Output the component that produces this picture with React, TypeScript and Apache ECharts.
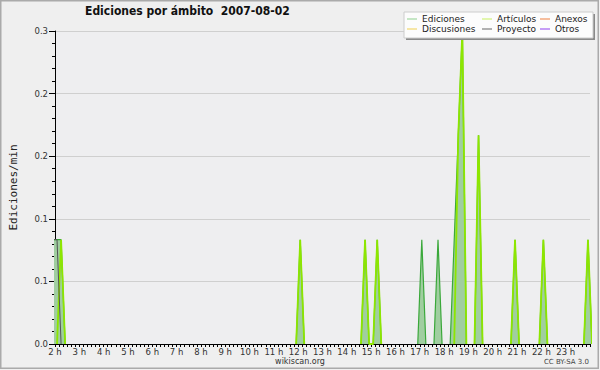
import React, { useEffect, useRef } from "react";
import * as echarts from "echarts";

const titleText = "Ediciones por ámbito  2007-08-02";
const yAxisName = "Ediciones/min";
const footerCenter = "wikiscan.org";
const footerRight = "CC BY-SA 3.0";
const yTickLabels = ["0.0", "0.1", "0.1", "0.2", "0.2", "0.3"];
const hourMin = 2;
const hourMax = 24;

const legendColumns = [
  ["Ediciones", "Discusiones"],
  ["Artículos", "Proyecto"],
  ["Anexos", "Otros"],
];
const legendColors: Record<string, string> = {
  Ediciones: "#8fd08f",
  Discusiones: "#f0d050",
  "Artículos": "#c8f060",
  Proyecto: "#666666",
  Anexos: "#f08040",
  Otros: "#9040f0",
};

// 10-minute bins (bin centres), values in edits per minute
const edicionesTimes = [
  "1:55", "2:05", "2:15", "2:25",
  "11:55", "12:05", "12:15",
  "14:35", "14:45", "14:55",
  "15:05", "15:15", "15:25",
  "16:55", "17:05", "17:15",
  "17:35", "17:45", "17:55",
  "18:15", "18:25", "18:35", "18:45", "18:55",
  "19:15", "19:25", "19:35",
  "20:45", "20:55", "21:05",
  "21:55", "22:05", "22:15",
  "23:45", "23:55", "24:05",
];
const edicionesValues = [
  0.1, 0.1, 0.1, 0,
  0, 0.1, 0,
  0, 0.1, 0,
  0, 0.1, 0,
  0, 0.1, 0,
  0, 0.1, 0,
  0, 0.1, 0.2, 0.3, 0,
  0, 0.2, 0,
  0, 0.1, 0,
  0, 0.1, 0,
  0, 0.1, 0,
];

const articulosTimes = [
  "2:05", "2:15", "2:25",
  "11:55", "12:05", "12:15",
  "14:35", "14:45", "14:55",
  "15:05", "15:15", "15:25",
  "18:25", "18:35", "18:45", "18:55",
  "19:15", "19:25", "19:35",
  "20:45", "20:55", "21:05",
  "21:55", "22:05", "22:15",
  "23:45", "23:55", "24:05",
];
const articulosValues = [
  0, 0.1, 0,
  0, 0.1, 0,
  0, 0.1, 0,
  0, 0.1, 0,
  0, 0.2, 0.3, 0,
  0, 0.2, 0,
  0, 0.1, 0,
  0, 0.1, 0,
  0, 0.1, 0,
];

const proyectoTimes = ["1:55", "2:05", "2:15"];
const proyectoValues = [0.1, 0.1, 0];

const toHour = (s: string) => {
  const [h, m] = s.split(":").map(Number);
  return h + m / 60;
};

// Build [x, y] pairs, breaking the line between separate spikes
const toPairs = (times: string[], values: number[]) => {
  const out: any[] = [];
  let prev: number | null = null;
  times.forEach((t, i) => {
    const x = toHour(t);
    if (prev !== null && x - prev > 0.2) out.push([(x + prev) / 2, null]);
    out.push([x, values[i]]);
    prev = x;
  });
  return out;
};

export default function App() {
  const ref = useRef<HTMLDivElement>(null);
  useEffect(() => {
    if (!ref.current) return;
    const chart = echarts.init(ref.current, undefined, { renderer: "svg" });
    const font = "'DejaVu Sans', sans-serif";
    const legends = legendColumns.map((col, ci) => ({
      orient: "vertical",
      left: [407, 482, 540][ci],
      top: 14,
      padding: 0,
      itemGap: 0,
      itemWidth: 10,
      itemHeight: 1,
      itemTextGap: 5,
      icon: "rect",
      selectedMode: false,
      z: 20,
      textStyle: { fontFamily: font, fontSize: 9, color: "#222", lineHeight: 10 },
      data: col.map((n) => ({ name: n, itemStyle: { color: legendColors[n] } })),
    }));

    chart.setOption({
      animation: false,
      backgroundColor: "#efefef",
      title: {
        text: titleText,
        left: 85,
        top: 5,
        padding: 0,
        textStyle: {
          fontFamily: "'DejaVu Sans Condensed', 'DejaVu Sans', sans-serif",
          fontWeight: "bold",
          fontSize: 12,
          color: "#111",
        },
      },
      legend: legends,
      grid: { left: 46, right: 10, top: 31, bottom: 26, show: true, backgroundColor: "#eeeef0", borderWidth: 0 },
      xAxis: {
        type: "value",
        min: hourMin,
        max: hourMax,
        interval: 1,
        axisLine: { lineStyle: { color: "#000", width: 1 } },
        axisTick: { length: 3, lineStyle: { color: "#000" } },
        minorTick: { show: true, splitNumber: 6, length: 3, lineStyle: { color: "#000" } },
        splitLine: { show: false },
        axisLabel: {
          margin: 3,
          fontFamily: font,
          fontSize: 8.5,
          color: "#333",
          formatter: (v: number) => (v === hourMax ? "" : `${v} h`),
        },
      },
      yAxis: {
        type: "value",
        min: 0,
        max: 0.3,
        interval: 0.06,
        name: yAxisName,
        nameLocation: "middle",
        nameRotate: 90,
        nameGap: 36,
        nameTextStyle: { fontFamily: "'DejaVu Sans Mono', monospace", fontSize: 11, color: "#222" },
        axisLine: { show: true, lineStyle: { color: "#000", width: 1 } },
        axisTick: { show: true, length: 6, lineStyle: { color: "#000" } },
        minorTick: { show: true, splitNumber: 5, length: 3, lineStyle: { color: "#000" } },
        splitLine: { show: true, lineStyle: { color: "#cfcfcf", width: 1 } },
        axisLabel: {
          margin: 7,
          fontFamily: font,
          fontSize: 8.5,
          color: "#333",
          formatter: (_v: number, i: number) => yTickLabels[i] ?? "",
        },
      },
      series: [
        {
          name: "Ediciones",
          type: "line",
          showSymbol: false,
          symbol: "none",
          data: toPairs(edicionesTimes, edicionesValues),
          lineStyle: { color: "#3aa83a", width: 1.2 },
          areaStyle: { color: "#a0cea0", opacity: 1 },
          itemStyle: { color: legendColors["Ediciones"] },
          z: 2,
        },
        {
          name: "Artículos",
          type: "line",
          symbol: "none",
          data: toPairs(articulosTimes, articulosValues),
          lineStyle: { color: "#8de600", width: 1.8 },
          itemStyle: { color: legendColors["Artículos"] },
          z: 3,
        },
        { name: "Anexos", type: "line", symbol: "none", data: [], itemStyle: { color: legendColors["Anexos"] } },
        { name: "Discusiones", type: "line", symbol: "none", data: [], itemStyle: { color: legendColors["Discusiones"] } },
        {
          name: "Proyecto",
          type: "line",
          symbol: "none",
          data: toPairs(proyectoTimes, proyectoValues),
          lineStyle: { color: "#555555", width: 1 },
          itemStyle: { color: legendColors["Proyecto"] },
          z: 4,
        },
        { name: "Otros", type: "line", symbol: "none", data: [], itemStyle: { color: legendColors["Otros"] } },
      ],
      graphic: [
        {
          type: "rect",
          silent: true,
          z: 1,
          shape: { x: 0.75, y: 0.75, width: 597.5, height: 367.5 },
          style: { fill: "none", stroke: "#aaaaaa", lineWidth: 1.5 },
        },
        {
          type: "rect",
          silent: true,
          z: 10,
          shape: { x: 406, y: 14, width: 189, height: 26 },
          style: { fill: "#8a8a8a" },
        },
        {
          type: "rect",
          silent: true,
          z: 11,
          shape: { x: 404, y: 12, width: 189, height: 26 },
          style: { fill: "#fcfcfc", stroke: "#cccccc", lineWidth: 1 },
        },
        {
          type: "text",
          silent: true,
          z: 12,
          x: 300,
          y: 361,
          style: { text: footerCenter, fontFamily: font, fontSize: 8, fill: "#333", align: "center", verticalAlign: "middle" },
        },
        {
          type: "text",
          silent: true,
          z: 12,
          x: 589,
          y: 362,
          style: { text: footerRight, fontFamily: font, fontSize: 7, fill: "#444", align: "right", verticalAlign: "middle" },
        },
      ],
    });
    return () => chart.dispose();
  }, []);
  return (
    <div style={{ position: "absolute", left: 0, top: 0, width: 600, height: 370, background: "#fff" }}>
      <div ref={ref} style={{ width: 600, height: 370 }} />
    </div>
  );
}
